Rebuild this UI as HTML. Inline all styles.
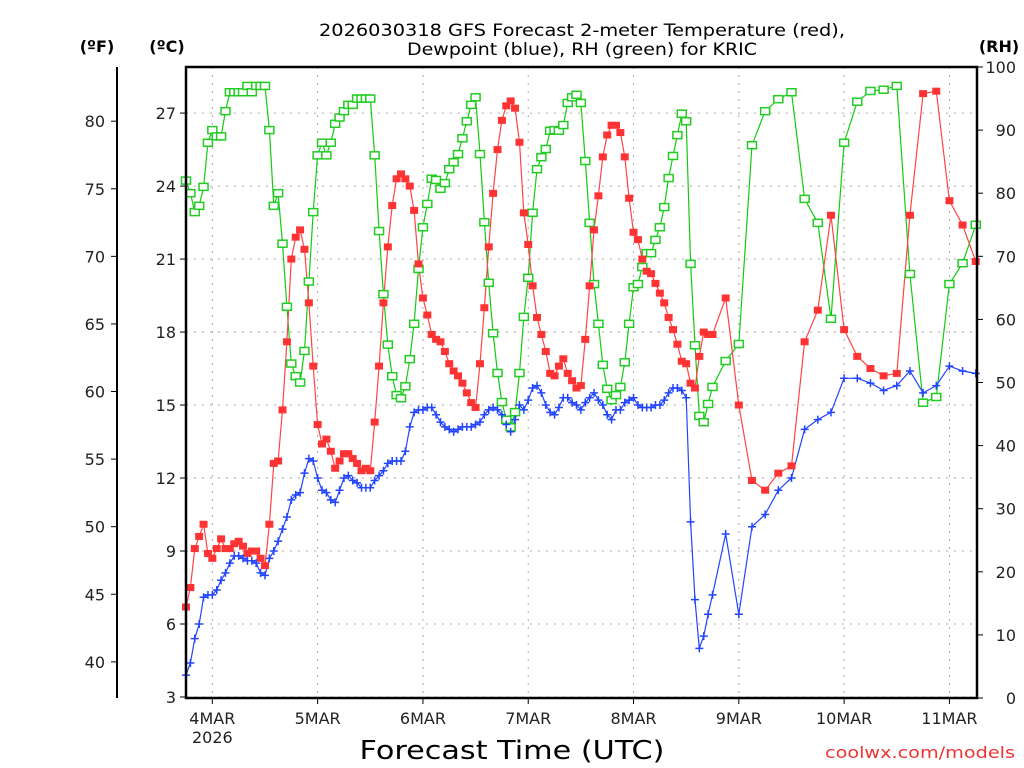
<!DOCTYPE html>
<html><head><meta charset="utf-8"><style>
html,body{margin:0;padding:0;background:#fff;}
svg{display:block;font-family:"DejaVu Sans","Liberation Sans",sans-serif;}
</style></head><body>
<svg id="chart" width="1024" height="768" viewBox="0 0 1024 768" xmlns="http://www.w3.org/2000/svg">
<rect x="0" y="0" width="1024" height="768" fill="#fff"/>
<g id="grid"></g>
<g id="series"></g>
<g id="axes"></g>
<text x="582" y="36" font-size="17" text-anchor="middle" textLength="526" lengthAdjust="spacingAndGlyphs">2026030318 GFS Forecast 2-meter Temperature (red),</text>
<text x="582" y="55" font-size="17" text-anchor="middle" textLength="350" lengthAdjust="spacingAndGlyphs">Dewpoint (blue), RH (green) for KRIC</text>
<text x="97" y="52" font-size="16" font-weight="bold" text-anchor="middle">(ºF)</text>
<text x="167" y="52" font-size="16" font-weight="bold" text-anchor="middle">(ºC)</text>
<text x="999" y="52" font-size="16" font-weight="bold" text-anchor="middle">(RH)</text>
<text x="512" y="759" font-size="26" text-anchor="middle" textLength="305" lengthAdjust="spacingAndGlyphs">Forecast Time (UTC)</text>
<text x="1015" y="758" font-size="16" fill="#e33" text-anchor="end" textLength="190" lengthAdjust="spacingAndGlyphs">coolwx.com/models</text>
</svg>
<script>
const tempC = [6.7,7.5,9.1,9.6,10.1,8.9,8.7,9.1,9.5,9.1,9.1,9.3,9.4,9.2,8.9,9.0,9.0,8.7,8.4,10.1,12.6,12.7,14.8,17.6,21.0,21.9,22.2,21.4,19.2,16.6,14.2,13.4,13.6,13.1,12.4,12.7,13.0,13.0,12.8,12.6,12.3,12.4,12.3,14.3,16.6,19.2,21.5,23.2,
24.3,24.5,24.3,24.0,23.0,20.8,19.4,18.7,17.9,17.7,17.6,17.2,16.7,16.4,16.2,15.9,15.5,15.1,14.9,16.7,19.0,21.5,23.7,25.5,26.7,27.3,27.5,27.2,25.8,22.9,21.6,19.9,18.6,17.9,17.2,16.3,16.2,16.6,16.9,16.3,16.0,15.7,15.8,17.7,19.9,22.2,23.6,
25.2,26.1,26.5,26.5,26.2,25.2,23.5,22.1,21.8,21.0,20.5,20.4,20.0,19.6,19.2,18.6,18.1,17.5,16.8,16.7,15.9,15.7,17.0,18.0,17.9,17.9,
19.4,15.0,11.9,11.5,12.2,12.5,17.6,18.9,22.8,18.1,17.0,16.5,16.2,16.3,22.8,27.8,27.9,23.4,22.4,20.9];
const dewC = [3.9,4.4,5.4,6.0,7.1,7.2,7.2,7.4,7.8,8.1,8.5,8.8,8.8,8.7,8.6,8.6,8.5,8.1,8.0,8.7,9.0,9.4,9.9,10.4,11.1,11.3,11.4,12.2,12.8,12.7,12.0,11.5,11.4,11.1,11.0,11.5,12.0,12.1,11.9,11.8,11.6,11.6,11.6,11.9,12.1,12.3,12.6,12.7,
12.7,12.7,13.1,14.1,14.7,14.8,14.8,14.9,14.9,14.6,14.3,14.1,14.0,13.9,14.0,14.1,14.1,14.1,14.2,14.3,14.6,14.8,14.9,14.8,14.6,14.2,13.9,14.4,15.0,14.8,15.2,15.7,15.8,15.5,15.0,14.7,14.6,14.9,15.3,15.3,15.1,15.0,14.8,15.1,15.3,15.5,15.2,
15.0,14.6,14.4,14.8,14.8,15.1,15.2,15.3,15.0,14.9,14.9,14.9,15.0,15.0,15.2,15.5,15.7,15.7,15.6,15.3,10.2,7.0,5.0,5.5,6.4,7.2,
9.7,6.4,10.0,10.5,11.5,12.0,14.0,14.4,14.7,16.1,16.1,15.9,15.6,15.8,16.4,15.5,15.8,16.6,16.4,16.3];
const rhPct = [82,80,77,78,81,88,90,89,89,93,96,96,96,96,97,96,97,97,97,90,78,80,72,62,53,51,50,55,66,77,86,88,86,88,91,92,93,94,94,95,95,95,95,86,74,64,56,51,
48,47.5,49.4,53.7,59.3,68,74.6,78.3,82.3,82.1,80.7,81.6,83.8,84.9,86.2,88.7,91.4,94,95.2,86.2,75.4,65.8,57.8,51.5,46.9,44.1,42.9,45.3,51.5,60.4,66.6,76.9,83.8,85.7,87,89.9,90,89.9,90.8,94.3,95.2,95.6,94.3,85.1,75.3,65.6,59.3,
52.8,49,47.2,48,49.3,53.2,59.3,65.1,65.6,68.3,70.5,70.5,72.6,74.6,77.8,82.4,85.9,89.2,92.6,91.4,68.8,55.9,44.7,43.7,46.6,49.3,
53.4,56.1,87.6,93,94.9,96,79.1,75.3,60.1,88,94.5,96.2,96.4,97,67.2,46.8,47.7,65.6,68.9,75];
const dayLabels = ["4MAR","5MAR","6MAR","7MAR","8MAR","9MAR","10MAR","11MAR"];
const celsiusTicks = [3,6,9,12,15,18,21,24,27];
const fahrenheitTicks = [40,45,50,55,60,65,70,75,80];
const rhTicks = [0,10,20,30,40,50,60,70,80,90,100];

const hours = [];
for (let h = 0; h <= 120; h++) hours.push(h);
for (let h = 123; h <= 180; h += 3) hours.push(h);

const X0 = 186, X1 = 977, Y0 = 67, Y1 = 698;
const xOf = h => 186 + h * 4.3875;
const yC = c => 697 - (c - 3) * 24.33;
const yF = f => yC((f - 32) * 5 / 9);
const yRH = r => 698 - r * 6.31;
const NS = "http://www.w3.org/2000/svg";
function mk(tag, attrs, parent) {
  const e = document.createElementNS(NS, tag);
  for (const k in attrs) e.setAttribute(k, attrs[k]);
  parent.appendChild(e);
  return e;
}
const grid = document.getElementById('grid');
const axes = document.getElementById('axes');
const series = document.getElementById('series');

// grid
celsiusTicks.forEach(c => {
  const l = mk('line', {x1:X0, x2:X1, y1:yC(c), y2:yC(c), stroke:'#aaa', 'stroke-width':1, 'stroke-dasharray':'2,6'}, grid);
  
  
});
dayLabels.forEach((d, i) => {
  const x = xOf(6 + 24 * i);
  const l = mk('line', {x1:x, x2:x, y1:Y0, y2:Y1, stroke:'#aaa', 'stroke-width':1, 'stroke-dasharray':'2,6'}, grid);
  
  
  const t = mk('line', {x1:x, x2:x, y1:Y1, y2:Y1 + 6, stroke:'#000', 'stroke-width':1}, axes);
  
  
  const tx = mk('text', {x:x, y:724, 'font-size':16, 'text-anchor':'middle', fill:'#222'}, axes);
  tx.textContent = d;
  
  
});
const yr = mk('text', {x:xOf(6), y:743, 'font-size':16, 'text-anchor':'middle', fill:'#222'}, axes);
yr.textContent = '2026';



// frame
const frame = mk('rect', {x:X0, y:Y0, width:X1 - X0, height:Y1 - Y0, fill:'none', stroke:'#000', 'stroke-width':2.5}, axes);


const fAx = mk('line', {x1:117, x2:117, y1:Y0, y2:Y1, stroke:'#000', 'stroke-width':2}, axes);



celsiusTicks.forEach(c => {
  const y = yC(c);
  const t = mk('line', {x1:X0 - 6, x2:X0, y1:y, y2:y, stroke:'#000'}, axes);
  
  
  const tx = mk('text', {x:176, y:y + 6, 'font-size':16, 'text-anchor':'end', fill:'#222'}, axes);
  tx.textContent = c;
  
  
});
fahrenheitTicks.forEach(f => {
  const y = yF(f);
  const t = mk('line', {x1:111, x2:117, y1:y, y2:y, stroke:'#000'}, axes);
  
  
  const tx = mk('text', {x:105, y:y + 6, 'font-size':16, 'text-anchor':'end', fill:'#222'}, axes);
  tx.textContent = f;
  
  
});
rhTicks.forEach(r => {
  const y = yRH(r);
  const t = mk('line', {x1:X1, x2:X1 + 6, y1:y, y2:y, stroke:'#000'}, axes);
  
  
  const tx = mk('text', {x:1016, y:y + 6, 'font-size':16, 'text-anchor':'end', fill:'#222'}, axes);
  tx.textContent = r;
  
  
});

// series
function line(vals, yfn, color, name) {
  const pts = vals.map((v, i) => xOf(hours[i]).toFixed(1) + ',' + yfn(v).toFixed(1)).join(' ');
  const p = mk('polyline', {points:pts, fill:'none', stroke:color, 'stroke-width':1.2}, series);
  
  
}
line(rhPct, yRH, '#11cc11', 'rh-line');
line(tempC, yC, '#f44', 'temperature-line');
line(dewC, yC, '#2244ff', 'dewpoint-line');

rhPct.forEach((v, i) => {
  const m = mk('rect', {x:xOf(hours[i]) - 4.5, y:yRH(v) - 3.5, width:9, height:7, fill:'#fff', stroke:'#22cc22', 'stroke-width':1.5}, series);
  
  
});
tempC.forEach((v, i) => {
  const m = mk('rect', {x:xOf(hours[i]) - 4, y:yC(v) - 3.5, width:8, height:7, fill:'#f33'}, series);
  
  
});
dewC.forEach((v, i) => {
  const x = xOf(hours[i]), y = yC(v);
  const m = mk('path', {d:`M${x-4},${y}H${x+4}M${x},${y-4}V${y+4}`, stroke:'#2244ff', 'stroke-width':1.5, fill:'none'}, series);
  
  
});
</script>
</body></html>
